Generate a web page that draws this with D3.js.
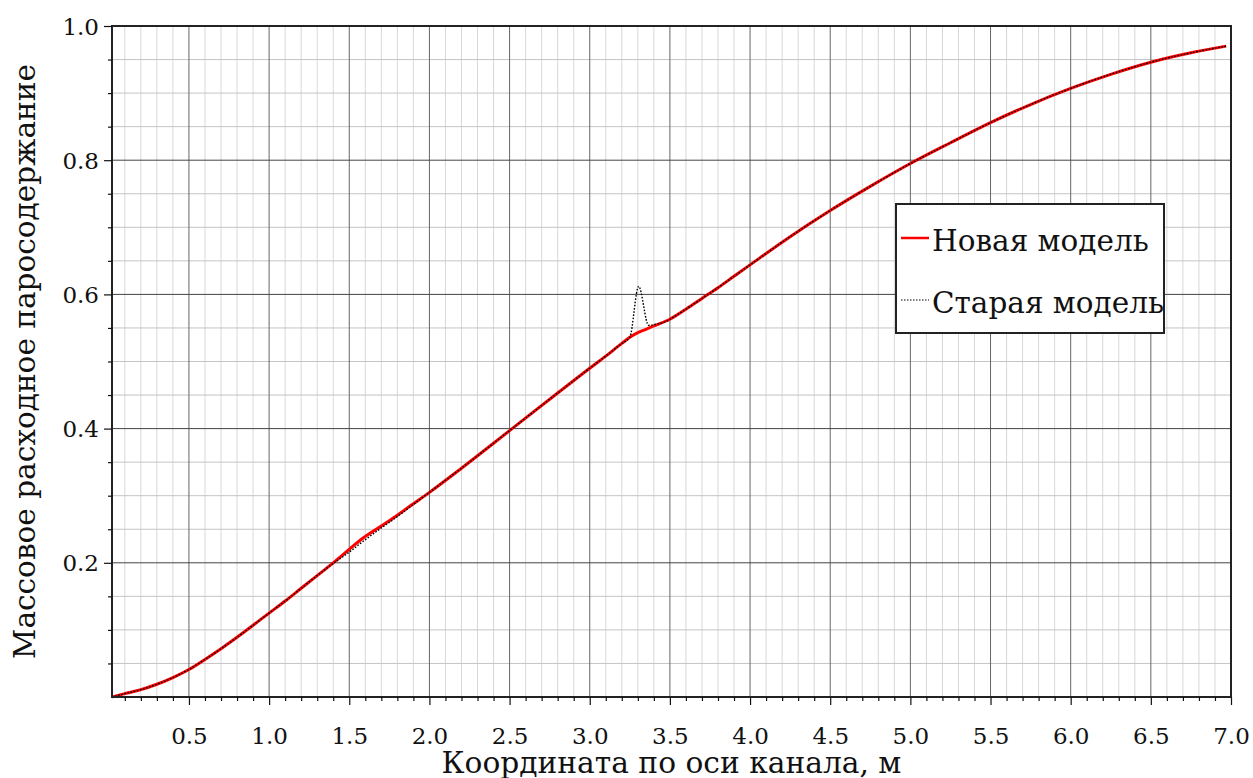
<!DOCTYPE html>
<html>
<head>
<meta charset="utf-8">
<script src="https://cdn.jsdelivr.net/npm/d3@7"></script>
<style>
  html, body { margin: 0; padding: 0; background: #fff; }
  svg { display: block; font-family: "DejaVu Serif", serif; }
</style>
</head>
<body>
<svg id="chart" width="1253" height="778"></svg>
<script>
// ---- Data ----
const newX = [0.02, 0.1, 0.2, 0.3, 0.4, 0.5, 0.6, 0.7, 0.8, 0.9, 1.0, 1.1, 1.2, 1.3, 1.4, 1.5, 1.57, 1.7, 1.8, 1.9, 2.0, 2.2, 2.5, 2.8, 3.0, 3.1, 3.2, 3.25, 3.3, 3.35, 3.4, 3.5, 3.6, 3.7, 3.8, 3.9, 4.0, 4.25, 4.5, 4.75, 5.0, 5.25, 5.5, 5.75, 6.0, 6.25, 6.5, 6.75, 6.97];
const newY = [0.0, 0.005, 0.011, 0.019, 0.029, 0.041, 0.056, 0.072, 0.089, 0.107, 0.125, 0.143, 0.162, 0.181, 0.200, 0.220, 0.234, 0.255, 0.271, 0.288, 0.305, 0.341, 0.397, 0.453, 0.490, 0.508, 0.527, 0.536, 0.543, 0.548, 0.553, 0.563, 0.578, 0.594, 0.610, 0.627, 0.644, 0.686, 0.725, 0.761, 0.795, 0.826, 0.856, 0.883, 0.907, 0.928, 0.946, 0.960, 0.970];

const oldX = [0.02, 0.1, 0.2, 0.3, 0.4, 0.5, 0.6, 0.7, 0.8, 0.9, 1.0, 1.1, 1.2, 1.3, 1.4, 1.5, 1.57, 1.7, 1.8, 1.9, 2.0, 2.2, 2.5, 2.8, 3.0, 3.1, 3.2, 3.25, 3.305, 3.367, 3.42, 3.48, 3.5, 3.6, 3.7, 3.8, 3.9, 4.0, 4.25, 4.5, 4.75, 5.0, 5.25, 5.5, 5.75, 6.0, 6.25, 6.5, 6.75, 6.97];
const oldY = [0.0, 0.005, 0.011, 0.019, 0.029, 0.041, 0.056, 0.072, 0.089, 0.107, 0.125, 0.143, 0.162, 0.181, 0.199, 0.216, 0.229, 0.252, 0.269, 0.287, 0.305, 0.341, 0.397, 0.453, 0.490, 0.508, 0.527, 0.536, 0.612, 0.554, 0.556, 0.560, 0.563, 0.578, 0.594, 0.610, 0.627, 0.644, 0.686, 0.725, 0.761, 0.795, 0.826, 0.856, 0.883, 0.907, 0.928, 0.946, 0.960, 0.970];

const xMajorTicks = [0.5, 1.0, 1.5, 2.0, 2.5, 3.0, 3.5, 4.0, 4.5, 5.0, 5.5, 6.0, 6.5, 7.0];
const xMinorTicks = d3.range(1, 71).map(i => i / 10);
const yMajorTicks = [0.2, 0.4, 0.6, 0.8, 1.0];
const yMinorTicks = d3.range(1, 21).map(i => i / 20);

const seriesNames = ["Новая модель", "Старая модель"];
const xTitle = "Координата по оси канала, м";
const yTitle = "Массовое расходное паросодержание";

// ---- Layout ----
const svg = d3.select("#chart");
const L = 112, R = 1231, T = 26, B = 697;
const x = d3.scaleLinear().domain([0.02, 7.0]).range([L, R]);
const y = d3.scaleLinear().domain([0, 1]).range([B, T]);

const isMajorX = v => xMajorTicks.some(m => Math.abs(m - v) < 1e-6);
const isMajorY = v => yMajorTicks.some(m => Math.abs(m - v) < 1e-6);

// grid
const grid = svg.append("g");
grid.selectAll("line.vmin").data(xMinorTicks.filter(v => !isMajorX(v)))
  .join("line").attr("x1", d => x(d)).attr("x2", d => x(d)).attr("y1", T).attr("y2", B)
  .attr("stroke", "#d8d8d8").attr("stroke-width", 1);
grid.selectAll("line.hmin").data(yMinorTicks.filter(v => !isMajorY(v)))
  .join("line").attr("x1", L).attr("x2", R).attr("y1", d => y(d)).attr("y2", d => y(d))
  .attr("stroke", "#c4c4c4").attr("stroke-width", 1);
grid.selectAll("line.vmaj").data(xMajorTicks)
  .join("line").attr("x1", d => x(d)).attr("x2", d => x(d)).attr("y1", T).attr("y2", B)
  .attr("stroke", "#666").attr("stroke-width", 1);
grid.selectAll("line.hmaj").data(yMajorTicks)
  .join("line").attr("x1", L).attr("x2", R).attr("y1", d => y(d)).attr("y2", d => y(d))
  .attr("stroke", "#444").attr("stroke-width", 1);

// lines
const newData = newX.map((d, i) => [d, newY[i]]);
const oldData = oldX.map((d, i) => [d, oldY[i]]);
const line = d3.line().x(d => x(d[0])).y(d => y(d[1])).curve(d3.curveMonotoneX);
svg.append("path").datum(newData).attr("d", line)
  .attr("fill", "none").attr("stroke", "#ff0000").attr("stroke-width", 3);
svg.append("path").datum(oldData).attr("d", line)
  .attr("fill", "none").attr("stroke", "#000").attr("stroke-width", 1.4)
  .attr("stroke-dasharray", "1.6,1.6");

// frame
svg.append("rect").attr("x", L).attr("y", T).attr("width", R - L).attr("height", B - T)
  .attr("fill", "none").attr("stroke", "#222").attr("stroke-width", 2);

// axes ticks
const xAxisMinor = d3.axisBottom(x).tickValues(xMinorTicks.filter(v => !isMajorX(v))).tickSize(4).tickFormat("");
const xAxisMajor = d3.axisBottom(x).tickValues(xMajorTicks).tickSize(8).tickPadding(22).tickFormat(d3.format(".1f"));
const yAxisMinor = d3.axisLeft(y).tickValues(yMinorTicks.filter(v => !isMajorY(v))).tickSize(4).tickFormat("");
const yAxisMajor = d3.axisLeft(y).tickValues(yMajorTicks).tickSize(8).tickPadding(5).tickFormat(d3.format(".1f"));

function styleAxis(g) {
  g.select(".domain").remove();
  g.selectAll(".tick line").attr("stroke", "#111").attr("stroke-width", 1.2);
  g.selectAll(".tick text").attr("fill", "#111").style("font-family", "DejaVu Serif")
    .style("font-size", "23px");
}
svg.append("g").attr("transform", `translate(0,${B})`).call(xAxisMinor).call(styleAxis);
const gx = svg.append("g").attr("transform", `translate(0,${B})`).call(xAxisMajor).call(styleAxis);
gx.selectAll(".tick text").attr("dy", null).attr("y", 47);
svg.append("g").attr("transform", `translate(${L},0)`).call(yAxisMinor).call(styleAxis);
const gy = svg.append("g").attr("transform", `translate(${L},0)`).call(yAxisMajor).call(styleAxis);
gy.selectAll(".tick text").attr("x", -13).attr("dy", "0.35em");

// fit helper
function fit(sel, target) {
  sel.style("font-size", "30px");
  const w = sel.node().getComputedTextLength();
  sel.style("font-size", (30 * target / w).toFixed(2) + "px");
}

// axis titles
const xt = svg.append("text").attr("x", (L + R) / 2).attr("y", 773).attr("text-anchor", "middle")
  .attr("fill", "#111").text(xTitle);
fit(xt, 460);
const yt = svg.append("text").attr("transform", "rotate(-90)").attr("x", -(T + B) / 2).attr("y", 35)
  .attr("text-anchor", "middle").attr("fill", "#111").text(yTitle);
fit(yt, 595);

// legend
const lg = svg.append("g");
lg.append("rect").attr("x", 896).attr("y", 204).attr("width", 268).attr("height", 129)
  .attr("fill", "#fff").attr("stroke", "#222").attr("stroke-width", 2);
lg.append("line").attr("x1", 901).attr("x2", 929).attr("y1", 238).attr("y2", 238)
  .attr("stroke", "#ff0000").attr("stroke-width", 2.5);
lg.append("line").attr("x1", 901).attr("x2", 929).attr("y1", 300).attr("y2", 300)
  .attr("stroke", "#000").attr("stroke-width", 1.2).attr("stroke-dasharray", "1.5,1.5");
const t2 = lg.append("text").attr("x", 932).attr("y", 313).attr("fill", "#111").text(seriesNames[1]);
fit(t2, 232);
const fs = t2.style("font-size");
lg.append("text").attr("x", 932).attr("y", 251).attr("fill", "#111").style("font-size", fs).text(seriesNames[0]);
</script>
</body>
</html>
